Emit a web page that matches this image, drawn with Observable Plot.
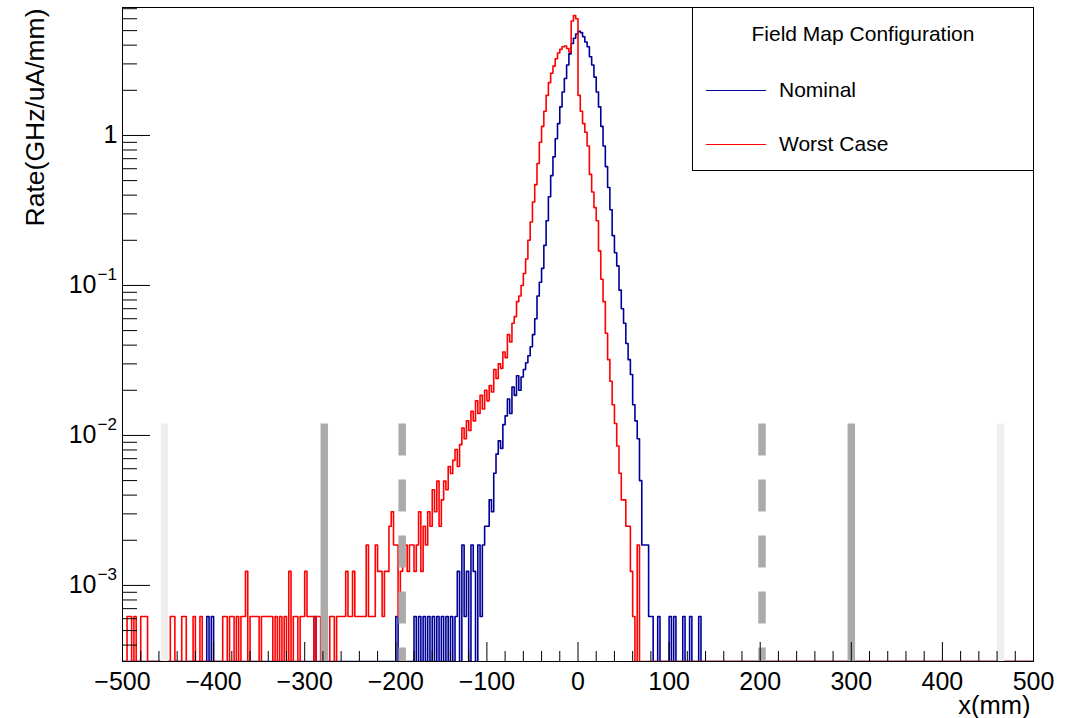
<!DOCTYPE html>
<html>
<head>
<meta charset="utf-8">
<script src="https://cdn.jsdelivr.net/npm/d3@7"></script>
<script src="https://cdn.jsdelivr.net/npm/@observablehq/plot@0.6"></script>
<style>
  html, body { margin: 0; padding: 0; background: #fff; }
  #wrap { position: relative; width: 1076px; height: 718px; font-family: "Liberation Sans", Arial, Helvetica, sans-serif; }
  #legend { position: absolute; left: 692px; top: 7px; width: 342px; height: 164px; box-sizing: border-box; border: 1px solid #000; background: #fff; }
  #legend .ttl { position: absolute; left: 0; width: 100%; top: 26px; text-align: center; font-size: 21px; line-height: 0; }
  #legend .ln { position: absolute; left: 13px; width: 60px; height: 1.4px; }
  #legend .lb { position: absolute; left: 86px; font-size: 21px; line-height: 0; }
</style>
</head>
<body>
<div id="wrap"><div id="chart"></div><div id="legend"></div></div>
<script>
// ---- axis ranges & binning ----
const xLo = -500, xHi = 500, binWidth = 2.5;
const yMin = 3.11e-4, yMax = 7.13;
const countUnit = 6.2e-4;           // rate of one entry (GHz/uA/mm)

// ---- series: Nominal (blue) ----
const nominalCoreStart = -100;      // left edge of first listed bin
const nominalCore = [
  0.00248, 0.00372, 0.0031, 0.0056, 0.0075, 0.0092, 0.0082, 0.0118, 0.0135, 0.0175,
  0.0140, 0.0210, 0.0185, 0.0250, 0.0200, 0.0245, 0.0275, 0.0305, 0.0340, 0.0390,
  0.0470, 0.0600, 0.0850, 0.105, 0.130, 0.185, 0.270, 0.390, 0.540, 0.720,
  0.950, 1.20, 1.55, 1.95, 2.40, 2.95, 3.50, 4.10, 4.45, 4.75,
  4.95, 4.85, 4.55, 4.20, 3.90, 3.35, 2.95, 2.45, 1.95, 1.55,
  1.15, 0.85, 0.62, 0.45, 0.32, 0.215, 0.165, 0.135, 0.093, 0.070,
  0.056, 0.041, 0.032, 0.0255, 0.0160, 0.0125, 0.0095, 0.0050, 0.00186, 0.00186,
  0.00186, 0.00062
];
// sparse tail bins: [x (mm), entries]
const nominalTail = [
  [-406, 1], [-401, 1], [-289, 1], [-199, 1], [-179, 1], [-174, 1],
  [-169, 1], [-164, 1], [-159, 1], [-154, 1], [-149, 1], [-144, 1],
  [-139, 1], [-134, 1], [-131, 2], [-126, 3], [-124, 1], [-121, 2],
  [-116, 3], [-114, 2], [-109, 3], [-106, 1], [-104, 3], [-101, 4],
  [81, 1], [89, 1], [101, 1], [106, 1], [116, 1], [124, 1], [134, 1]
];

// ---- series: Worst Case (red) ----
const worstCoreStart = -200;
const worstCore = [
  0.00186, 0.00062, 0.00124, 0.00186, 0.00186, 0.00124, 0.00186, 0.00186, 0.00124, 0.00186,
  0.0031, 0.00124, 0.00248, 0.00186, 0.0031, 0.00248, 0.00434, 0.0031, 0.00496, 0.00248,
  0.00372, 0.00496, 0.00434, 0.0062, 0.00558, 0.00682, 0.00806, 0.0062, 0.00868, 0.0112,
  0.0095, 0.0125, 0.0108, 0.0145, 0.0125, 0.0170, 0.0140, 0.0185, 0.0150, 0.0200,
  0.0170, 0.0215, 0.0195, 0.0275, 0.0240, 0.0300, 0.0280, 0.0360, 0.0330, 0.0470,
  0.0420, 0.0560, 0.0620, 0.0780, 0.0850, 0.100, 0.120, 0.150, 0.200, 0.265,
  0.360, 0.470, 0.650, 0.900, 1.15, 1.45, 1.85, 2.25, 2.60, 2.90,
  3.25, 3.55, 3.75, 3.90, 3.95, 3.80, 3.60, 5.80, 6.30, 6.00,
  1.85, 1.45, 1.20, 1.05, 0.85, 0.55, 0.42, 0.33, 0.27, 0.170,
  0.110, 0.078, 0.048, 0.032, 0.023, 0.016, 0.012, 0.0085, 0.0056, 0.00372,
  0.00372, 0.00248, 0.00248, 0.00124, 0.00062, 0, 0.00186
];
const worstTail = [
  [-494, 1], [-491, 1], [-486, 1], [-479, 1], [-476, 1], [-474, 1], [-446, 1], [-444, 1],
  [-434, 1], [-431, 1], [-421, 1], [-414, 1], [-389, 1], [-386, 1], [-381, 1],
  [-379, 1], [-374, 1], [-369, 1], [-366, 1], [-364, 2], [-359, 1], [-356, 1],
  [-354, 1], [-351, 1], [-346, 1], [-344, 1], [-341, 1], [-339, 1], [-336, 1],
  [-331, 1], [-326, 1], [-321, 1], [-316, 2], [-311, 1], [-309, 1], [-304, 1], [-301, 1],
  [-299, 2], [-296, 1], [-294, 1], [-291, 1], [-286, 1], [-284, 1], [-271, 1],
  [-269, 1], [-264, 1], [-261, 1], [-259, 1], [-256, 1], [-254, 2], [-251, 1], [-249, 1],
  [-246, 2], [-244, 1], [-241, 1], [-239, 1], [-236, 1], [-234, 1], [-231, 3],
  [-229, 1], [-226, 1], [-224, 1], [-221, 3], [-219, 2], [-216, 2], [-214, 1],
  [-211, 2], [-209, 2], [-206, 4], [-204, 5], [-201, 3]
];

// ---- vertical marker bands ----
const lightBands = [-454, 464];
const solidBands = [-278.5, 300];
const dashedBands = [-193, 202];
const bandTop = 0.0119;

// ---- ticks ----
const xMajorTicks = [-500, -400, -300, -200, -100, 0, 100, 200, 300, 400, 500];
const xMinorTicks = d3.range(-480, 500, 20).filter(v => v % 100 !== 0);
const yMajorTicks = [1, 0.1, 0.01, 0.001];
const yMinorTicks = [];
[1e-4, 1e-3, 1e-2, 1e-1, 1].forEach(dec => [2,3,4,5,6,7,8,9].forEach(m => {
  const v = m * dec; if (v > yMin && v < yMax) yMinorTicks.push(v);
}));

// ---- build histograms ----
const nBins = Math.round((xHi - xLo) / binWidth);
function buildBins(coreStart, core, tail) {
  const v = new Array(nBins).fill(0);
  const i0 = Math.round((coreStart - xLo) / binWidth);
  core.forEach((val, k) => { v[i0 + k] = val; });
  tail.forEach(([x, c]) => { v[Math.floor((x - xLo) / binWidth)] = c * countUnit; });
  return v;
}
function stepPoints(v) {
  const pts = [];
  v.forEach((val, i) => {
    const y = Math.max(val, yMin);
    pts.push({x: xLo + i * binWidth, y}, {x: xLo + (i + 1) * binWidth, y});
  });
  return pts;
}
const nominalPts = stepPoints(buildBins(nominalCoreStart, nominalCore, nominalTail));
const worstPts = stepPoints(buildBins(worstCoreStart, worstCore, worstTail));

const W = 1076, H = 718, mL = 122, mR = 43, mT = 7, mB = 57;
const plotW = W - mL - mR, plotH = H - mT - mB;
const minus = s => String(s).replace("-", "\u2212");

const chart = Plot.plot({
  width: W, height: H,
  marginLeft: mL, marginRight: mR, marginTop: mT, marginBottom: mB,
  x: {domain: [xLo, xHi], axis: null},
  y: {type: "log", domain: [yMin, yMax], axis: null},
  style: {fontFamily: "'Liberation Sans', Arial, Helvetica, sans-serif", background: "#fff", color: "#000"},
  marks: [
    Plot.frame({stroke: "#000", strokeWidth: 1}),
    Plot.line(nominalPts, {x: "x", y: "y", stroke: "#000099", strokeWidth: 1.6, clip: true}),
    Plot.line(worstPts, {x: "x", y: "y", stroke: "#ff0000", strokeWidth: 1.6, clip: true}),
    Plot.ruleX(lightBands, {x: d => d, y1: bandTop, y2: yMin, stroke: "#efefef", strokeWidth: 7.5}),
    Plot.ruleX(solidBands, {x: d => d, y1: bandTop, y2: yMin, stroke: "#aeaaaa", strokeWidth: 7.5}),
    Plot.ruleX(dashedBands, {x: d => d, y1: bandTop, y2: yMin, stroke: "#aeaaaa", strokeWidth: 7.5, strokeDasharray: "32,24"}),
    Plot.ruleX(xMajorTicks, {x: d => d, insetTop: plotH - 19, stroke: "#000"}),
    Plot.ruleX(xMinorTicks, {x: d => d, insetTop: plotH - 10, stroke: "#000"}),
    Plot.ruleY(yMajorTicks, {y: d => d, insetRight: plotW - 28, stroke: "#000"}),
    Plot.ruleY(yMinorTicks, {y: d => d, insetRight: plotW - 15, stroke: "#000"}),
    Plot.text(xMajorTicks, {x: d => d, frameAnchor: "bottom", dy: 20, text: d => minus(d), fontSize: 25, lineAnchor: "middle", fill: "#000"}),
    Plot.text([1], {y: d => d, frameAnchor: "left", dx: -5, textAnchor: "end", text: () => "1", fontSize: 25, lineAnchor: "middle", fill: "#000"}),
    Plot.text(yMajorTicks.filter(d => d < 1), {y: d => d, frameAnchor: "left", dx: -26, textAnchor: "end", text: () => "10", fontSize: 25, lineAnchor: "middle", fill: "#000"}),
    Plot.text(yMajorTicks.filter(d => d < 1), {y: d => d, frameAnchor: "left", dx: -25, dy: -11, textAnchor: "start", text: d => "\u2212" + Math.round(-Math.log10(d)), fontSize: 17, lineAnchor: "middle", fill: "#000"}),
    Plot.text(["x(mm)"], {frameAnchor: "bottom-right", dx: -3, dy: 44, textAnchor: "end", text: d => d, fontSize: 25.5, lineAnchor: "middle", fill: "#000"}),
    Plot.text(["Rate(GHz/uA/mm)"], {frameAnchor: "top-left", dx: -87, dy: 1, rotate: -90, textAnchor: "end", text: d => d, fontSize: 26.5, lineAnchor: "middle", fill: "#000"})
  ]
});
document.getElementById("chart").appendChild(chart);

// ---- legend ----
const legendTitle = "Field Map Configuration";
const legendItems = [
  {label: "Nominal", color: "#000099", top: 82},
  {label: "Worst Case", color: "#ff0000", top: 136}
];
const lg = document.getElementById("legend");
const t = document.createElement("div"); t.className = "ttl"; t.textContent = legendTitle; lg.appendChild(t);
legendItems.forEach(it => {
  const l = document.createElement("div"); l.className = "ln"; l.style.top = it.top + "px"; l.style.background = it.color; lg.appendChild(l);
  const s = document.createElement("div"); s.className = "lb"; s.style.top = it.top + "px"; s.textContent = it.label; lg.appendChild(s);
});
</script>
</body>
</html>
